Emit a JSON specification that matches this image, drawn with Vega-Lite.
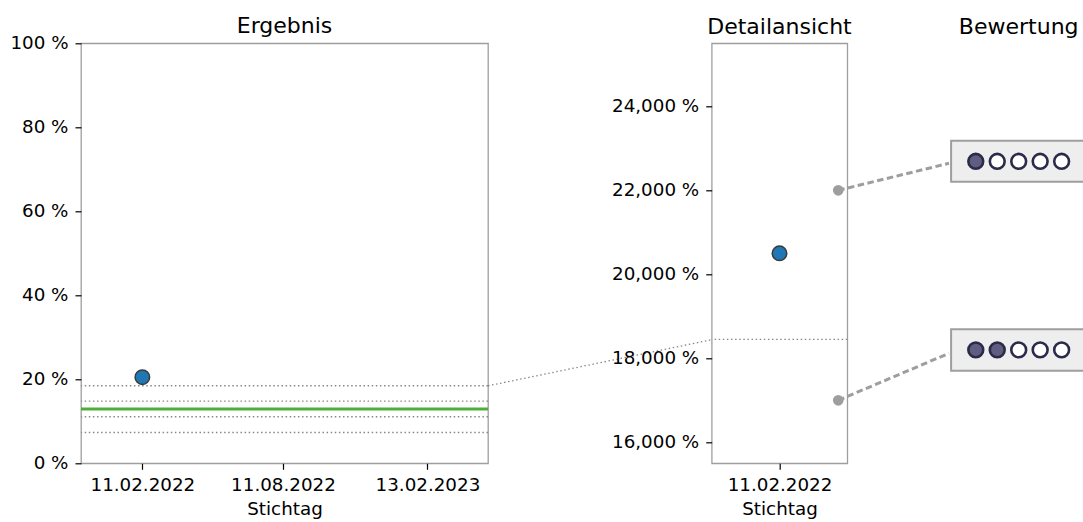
{
  "$schema": "https://vega.github.io/schema/vega-lite/v6.json",
  "autosize": {"type": "none"},
  "padding": {"left": 81, "top": 43.3, "right": 1002, "bottom": 478.7},
  "background": "white",
  "config": {
    "font": "DejaVu Sans",
    "view": {"stroke": "#9e9e9e", "strokeWidth": 1.3},
    "axis": {
      "labelFont": "DejaVu Sans",
      "labelFontSize": 18.3,
      "labelColor": "#000000",
      "titleFont": "DejaVu Sans",
      "titleFontSize": 18.3,
      "titleFontWeight": "normal",
      "titleColor": "#000000",
      "titlePadding": 7,
      "tickColor": "#000000",
      "tickSize": 6,
      "tickWidth": 1.2,
      "domain": false,
      "grid": false,
      "labelPadding": 7,
      "labelFlush": false,
      "labelOverlap": false
    },
    "title": {
      "font": "DejaVu Sans",
      "fontSize": 22,
      "fontWeight": "normal",
      "color": "#000000",
      "baseline": "alphabetic",
      "anchor": "middle"
    }
  },
  "datasets": {
    "ergebnis": [{"Stichtag": "2022-02-11", "Ergebnis": 20.5}],
    "grenzen": [{"Grenze": 18.45}, {"Grenze": 14.8}, {"Grenze": 11.07}, {"Grenze": 7.33}],
    "ziel": [{"Ziel": 12.9}],
    "verbindung": [{"von": "2023-05-02", "bis": "2024-02-14", "links": 18.45, "rechts": 29.43}],
    "bewertung_linien": [
      {"von": "2022-03-09", "bis": "2022-04-27", "Schwelle": 22, "Box": 22.643},
      {"von": "2022-03-09", "bis": "2022-04-27", "Schwelle": 17, "Box": 18.119}
    ],
    "boxen": [
      {"Box": "oben", "unten": 0.6705, "oben": 0.768},
      {"Box": "unten", "unten": 0.2205, "oben": 0.319}
    ],
    "kreise": [
      {"Box": "oben", "Position": 1, "Status": "voll", "Hoehe": 0.719},
      {"Box": "oben", "Position": 2, "Status": "leer", "Hoehe": 0.719},
      {"Box": "oben", "Position": 3, "Status": "leer", "Hoehe": 0.719},
      {"Box": "oben", "Position": 4, "Status": "leer", "Hoehe": 0.719},
      {"Box": "oben", "Position": 5, "Status": "leer", "Hoehe": 0.719},
      {"Box": "unten", "Position": 1, "Status": "voll", "Hoehe": 0.27},
      {"Box": "unten", "Position": 2, "Status": "voll", "Hoehe": 0.27},
      {"Box": "unten", "Position": 3, "Status": "leer", "Hoehe": 0.27},
      {"Box": "unten", "Position": 4, "Status": "leer", "Hoehe": 0.27},
      {"Box": "unten", "Position": 5, "Status": "leer", "Hoehe": 0.27}
    ]
  },
  "bounds": "flush",
  "spacing": 223.7,
  "hconcat": [
    {
      "title": {"text": "Ergebnis", "frame": "group", "offset": 4.5, "dy": 9.15},
      "width": 407,
      "height": 420,
      "layer": [
        {
          "data": {"name": "grenzen"},
          "mark": {"type": "rule", "color": "#888888", "strokeWidth": 1.4, "strokeDash": [1.5, 2.6]},
          "encoding": {
            "y": {
              "field": "Grenze", "type": "quantitative",
              "scale": {"domain": [0, 100], "nice": false, "zero": false},
              "axis": {"values": [0, 20, 40, 60, 80, 100], "labelExpr": "datum.value + ' %'", "title": null}
            }
          }
        },
        {
          "data": {"name": "ziel"},
          "mark": {"type": "rule", "color": "#4daf3a", "strokeWidth": 3},
          "encoding": {"y": {"field": "Ziel", "type": "quantitative"}}
        },
        {
          "data": {"name": "verbindung"},
          "mark": {"type": "rule", "clip": false, "color": "#888888", "strokeWidth": 1.3, "strokeDash": [1.5, 2.6]},
          "encoding": {
            "x": {"field": "von", "type": "temporal"},
            "x2": {"field": "bis"},
            "y": {"field": "links", "type": "quantitative"},
            "y2": {"field": "rechts"}
          }
        },
        {
          "data": {"name": "ergebnis"},
          "mark": {"type": "circle", "fill": "#1f77b4", "stroke": "#3a3a3a", "strokeWidth": 1.5, "size": 210, "opacity": 1},
          "encoding": {
            "x": {
              "field": "Stichtag", "type": "temporal",
              "scale": {"type": "utc", "nice": false, "domain": [{"year": 2021, "month": 11, "date": 24, "utc": true}, {"year": 2023, "month": 5, "date": 2, "utc": true}]},
              "axis": {
                "values": [
                  {"year": 2022, "month": 2, "date": 11, "utc": true},
                  {"year": 2022, "month": 8, "date": 11, "utc": true},
                  {"year": 2023, "month": 2, "date": 13, "utc": true}
                ],
                "labelExpr": "utcFormat(datum.value, '%d.%m.%Y')", "title": "Stichtag"
              }
            },
            "y": {"field": "Ergebnis", "type": "quantitative"}
          }
        }
      ]
    },
    {
      "bounds": "flush",
      "spacing": 103.4,
      "hconcat": [
        {
          "title": {"text": "Detailansicht", "frame": "group", "offset": 4.5},
          "width": 135.6,
          "height": 420,
          "layer": [
            {
              "data": {"name": "grenzen"},
              "mark": {"type": "rule", "clip": true, "color": "#888888", "strokeWidth": 1.4, "strokeDash": [1.5, 2.6]},
              "encoding": {
                "y": {
                  "field": "Grenze", "type": "quantitative",
                  "scale": {"domain": [15.5, 25.5], "nice": false, "zero": false},
                  "axis": {"values": [16, 18, 20, 22, 24], "labelExpr": "replace(format(datum.value, '.3f'), '.', ',') + ' %'", "title": null}
                }
              }
            },
            {
              "data": {"name": "bewertung_linien"},
              "mark": {"type": "rule", "clip": false, "color": "#9e9e9e", "strokeWidth": 3, "strokeDash": [6.5, 3.5]},
              "encoding": {
                "x": {"field": "von", "type": "temporal"},
                "x2": {"field": "bis"},
                "y": {"field": "Schwelle", "type": "quantitative"},
                "y2": {"field": "Box"}
              }
            },
            {
              "data": {"name": "bewertung_linien"},
              "mark": {"type": "circle", "clip": false, "color": "#9e9e9e", "size": 115, "opacity": 1},
              "encoding": {
                "x": {"field": "von", "type": "temporal"},
                "y": {"field": "Schwelle", "type": "quantitative"}
              }
            },
            {
              "data": {"name": "ergebnis"},
              "mark": {"type": "circle", "fill": "#1f77b4", "stroke": "#3a3a3a", "strokeWidth": 1.5, "size": 210, "opacity": 1},
              "encoding": {
                "x": {
                  "field": "Stichtag", "type": "temporal",
                  "scale": {"type": "utc", "nice": false, "domain": [{"year": 2022, "month": 1, "date": 12, "utc": true}, {"year": 2022, "month": 3, "date": 13, "utc": true}]},
                  "axis": {
                    "values": [{"year": 2022, "month": 2, "date": 11, "utc": true}],
                    "labelExpr": "utcFormat(datum.value, '%d.%m.%Y')", "title": "Stichtag"
                  }
                },
                "y": {"field": "Ergebnis", "type": "quantitative"}
              }
            }
          ]
        },
        {
          "title": {"text": "Bewertung", "frame": "group", "offset": 4.5},
          "width": 135.2,
          "height": 420,
          "view": {"stroke": null},
          "layer": [
            {
              "data": {"name": "boxen"},
              "mark": {"type": "rect", "fill": "#eeeeee", "stroke": "#9e9e9e", "strokeWidth": 2},
              "encoding": {
                "x": {"datum": -0.15, "type": "quantitative", "scale": {"domain": [-0.15, 6.15], "nice": false, "zero": false}, "axis": null},
                "x2": {"datum": 6.15},
                "y": {"field": "unten", "type": "quantitative", "scale": {"domain": [0, 1], "nice": false}, "axis": null},
                "y2": {"field": "oben"}
              }
            },
            {
              "data": {"name": "kreise"},
              "mark": {"type": "circle", "size": 220, "stroke": "#2b2a48", "strokeWidth": 2.6, "opacity": 1},
              "encoding": {
                "x": {"field": "Position", "type": "quantitative"},
                "y": {"field": "Hoehe", "type": "quantitative"},
                "fill": {"field": "Status", "type": "nominal", "scale": {"domain": ["voll", "leer"], "range": ["#5f5d80", "#ffffff"]}, "legend": null}
              }
            }
          ]
        }
      ]
    }
  ]
}
